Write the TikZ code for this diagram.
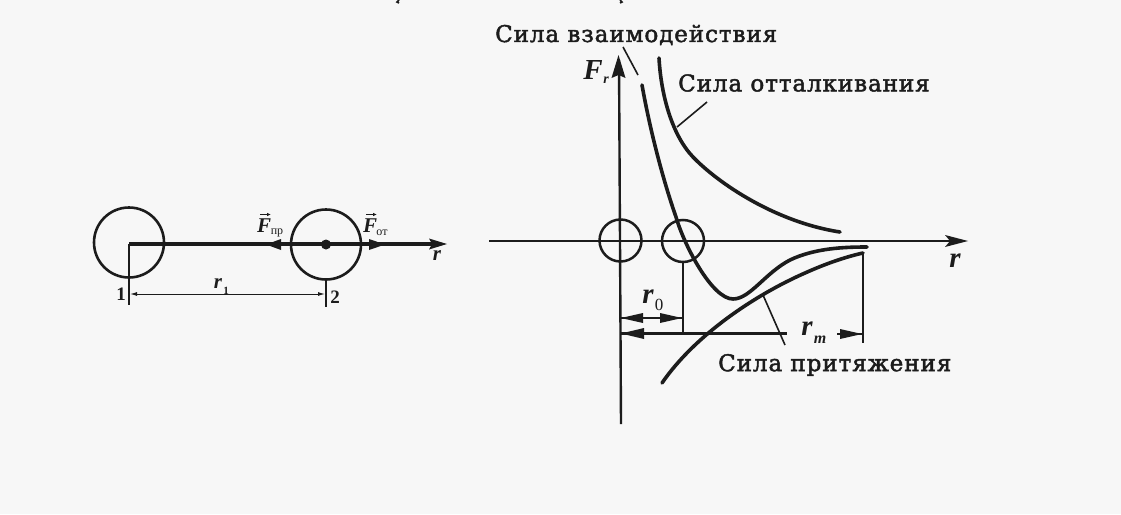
\documentclass[tikz,border=0pt]{standalone}
\usepackage{fontspec}
\setmainfont{DejaVu Serif}
\newfontfamily\lbl[LetterSpace=4,FakeBold=2]{DejaVu Serif}
\newfontfamily\ital{Liberation Serif}
\usetikzlibrary{arrows.meta}
\definecolor{ink}{HTML}{1C1C1C}
\definecolor{paper}{HTML}{F7F7F7}
\tikzset{
  x=1pt,y=-1pt,
  heavy/.style={draw=ink,line width=3.2pt},
  axis/.style={draw=ink,line width=2.4pt},
  thin line/.style={draw=ink,line width=1.6pt},
  ring/.style={draw=ink,line width=2.6pt,circle,minimum size=70pt,inner sep=0pt},
  smallring/.style={draw=ink,line width=2.5pt,circle,minimum size=42pt,inner sep=0pt},
  curve/.style={draw=ink,line width=3.6pt,line cap=round},
  lab/.style={inner sep=0pt,text=ink,font=\fontsize{23}{24}\selectfont\lbl},
  var/.style={inner sep=0pt,text=ink,font=\fontsize{29}{29}\selectfont\ital\bfseries\itshape},
  varsm/.style={inner sep=0pt,text=ink,font=\fontsize{21}{21}\selectfont\ital\bfseries\itshape},
  sub/.style={inner sep=0pt,text=ink,font=\fontsize{12}{12}\selectfont\ital},
  digit/.style={inner sep=0pt,text=ink,font=\fontsize{19}{19}\selectfont\ital\bfseries},
}
\begin{document}
\begin{tikzpicture}
\useasboundingbox (0,0) rectangle (1121,514);
\fill[paper] (0,0) rectangle (1121,514);
% cut-off brackets at the top edge
\draw[ink,line width=1.6pt] (399,0) -- (397,2) -- (399,3);
\draw[ink,line width=1.6pt] (620,0) -- (622,2) -- (620,3);
% ---- left figure
\node[ring] (c1) at (129,242.5) {};
\node[ring] (c2) at (326,244.5) {};
\coordinate (rEnd) at (440,244);
\coordinate (o1) at (129,244);
\fill[ink] (c2) circle (5pt);
\draw[heavy] (o1) -- (rEnd);
\fill[ink] (447,244) -- (429,238.5) -- (432,244) -- (429,249.5) -- cycle;
\fill[ink] (266,244.5) -- (281,239) -- (281,250) -- cycle;
\fill[ink] (385,244.5) -- (369,239) -- (369,250) -- cycle;
\coordinate (t1) at (129,305);
\coordinate (t2) at (326,307);
\draw[thin line] (o1) -- (t1);
\draw[thin line] (c2) -- (t2);
\coordinate (d1) at (130,294);
\coordinate (d2) at (325,294);
\draw[draw=ink,line width=1pt,{Latex[length=7pt,width=4pt]}-{Latex[length=7pt,width=4pt]}] (d1) -- (d2);
\node[varsm] (fp) at (264,226) {F};
\node[varsm] (f2) at (370,226) {F};
\draw[ink,line width=.9pt,-{Latex[length=4pt,width=3.5pt]}] (260,214.5) -- (271,214.5);
\draw[ink,line width=.9pt,-{Latex[length=4pt,width=3.5pt]}] (366,214.5) -- (377,214.5);
\node[sub] (pr) at (277,232.5) {пр};
\node[sub] (ot) at (382,232.5) {от};
\node[varsm] (r) at (437,256) {r};
\node[varsm] (r1) at (218,284) {r};
\node[sub,font=\fontsize{11}{11}\selectfont\ital\bfseries] (r1i) at (226,291) {1};
\node[digit] (n1) at (121,294) {1};
\node[digit] (n2) at (335,297) {2};
% ---- right figure
\node[smallring] (a) at (620.5,240.5) {};
\node[smallring] (b) at (683,241) {};
\coordinate (xs) at (489,241);
\coordinate (xe) at (955,241);
\coordinate (ys) at (621,424);
\coordinate (ye) at (619,60);
\draw[axis] (xs) -- (xe);
\fill[ink] (968,241) -- (945,235) -- (950,241) -- (945,247) -- cycle;
\draw[axis] (ys) -- (ye);
\fill[ink] (618.5,55) -- (611.5,78) -- (618.5,75) -- (625.5,78) -- cycle;
\node[var] (Fr) at (593,70) {F};
\node[sub,font=\fontsize{14}{14}\selectfont\ital\bfseries\itshape] (Fri) at (606,80) {r};
\node[var] (rx) at (955,261) {r};
% repulsion
\draw[curve] (659,58) .. controls (661,95) and (672,135) .. (693,157)
  .. controls (718,183) and (775,222) .. (840,232);
% interaction
\draw[curve] (642,85) .. controls (650,130) and (663,180) .. (676,217)
  .. controls (684,245) and (712,299) .. (733,299)
  .. controls (750,299) and (765,273) .. (790,260)
  .. controls (815,248) and (845,247) .. (867,247);
% attraction
\draw[curve] (662,383) .. controls (695,335) and (755,295) .. (805,273)
  .. controls (825,264) and (845,257) .. (863,253);
% dims
\coordinate (b0) at (683,333);
\coordinate (m0) at (863,343);
\coordinate (m1) at (863,254);
\draw[thin line] (b.south) -- (b0);
\draw[thin line] (m1) -- (m0);
\draw[draw=ink,line width=1.6pt] (621,318) -- (682,318);
\fill[ink] (621,318) -- (643,313) -- (643,323) -- cycle;
\fill[ink] (682,318) -- (660,313) -- (660,323) -- cycle;
\draw[draw=ink,line width=2.2pt] (621,333.5) -- (787,333.5);
\fill[ink] (621,333.5) -- (644,328) -- (644,339) -- cycle;
\draw[draw=ink,line width=2.2pt] (837,334) -- (862,334);
\fill[ink] (862,334) -- (840,329) -- (840,339) -- cycle;
\node[var] (r0) at (648,297) {r};
\node[sub,font=\fontsize{17}{17}\selectfont\ital] (r0i) at (659,305) {0};
\node[var] (rm) at (807,329) {r};
\node[sub,font=\fontsize{16}{16}\selectfont\ital\bfseries\itshape] (rmi) at (820,340) {m};
% leaders
\draw[thin line] (623,47) -- (638,75);
\draw[thin line] (707,102) -- (677,127);
\draw[thin line] (763,295) -- (785,345);
% labels
\node[lab,anchor=west] (L1) at (495,35) {Сила взаимодействия};
\node[lab,anchor=west] (L2) at (678,83) {Сила отталкивания};
\node[lab,anchor=west] (L3) at (718,365) {Сила притяжения};
\end{tikzpicture}
\end{document}
